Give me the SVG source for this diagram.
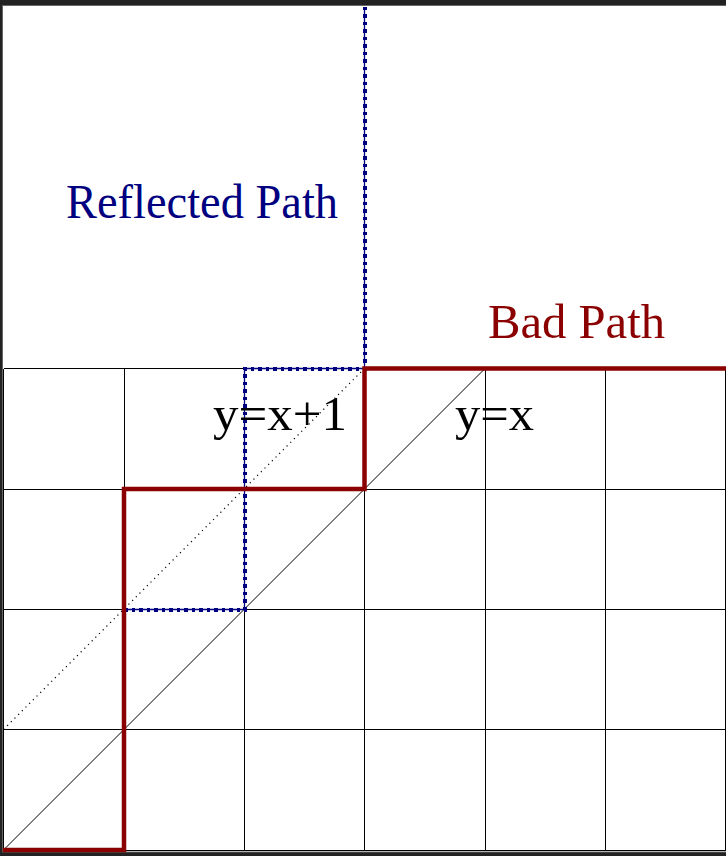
<svg xmlns="http://www.w3.org/2000/svg" width="726" height="856" viewBox="0 0 726 856">
<style>
.grid{stroke:#000;stroke-width:1;fill:none;shape-rendering:crispEdges}
.bad{stroke:#8B0000;stroke-width:4.5;fill:none;stroke-linejoin:miter;stroke-linecap:square}
.refl{stroke:#000080;fill:none}
.lbl{font-family:"Liberation Serif","DejaVu Serif",serif;font-size:48px}
</style>
<rect x="0" y="0" width="726" height="856" fill="#222"/>
<rect x="2.5" y="5.5" width="730" height="846.5" fill="#fff" stroke="#666" stroke-width="1"/>
<g id="grid" class="grid">
<path d="M3.5 368.5H725.5M3.5 489.5H725.5M3.5 609.5H725.5M3.5 729.5H725.5M3.5 850.5H725.5"/>
<path d="M3.5 368.5V850M124.5 368.5V850M244.5 368.5V850M364.5 368.5V850M485.5 368.5V850M605.5 368.5V850M725.5 368.5V850"/>
</g>
<g id="connectors">
<line id="diag-yx" x1="3.5" y1="850" x2="485" y2="368.5" stroke="#000" stroke-width="1"/>
<line id="diag-yx1" x1="3.5" y1="729.5" x2="364.5" y2="368.5" stroke="#000" stroke-width="1.2" stroke-dasharray="1.2 4"/>
<g id="reflected-path">
<path class="refl" stroke-width="1.3" d="M124 609.5H244.5V368.5H364.5V7"/>
<path class="refl" stroke-width="4" stroke-dasharray="3.5 4" d="M124 609.5H244.5V368.5H364.5V7" shape-rendering="crispEdges"/>
</g>
<path id="bad-path" class="bad" d="M5 850H124V489H364.5V368.5H726"/>
</g>
<g id="label-reflected"><text class="lbl" x="66" y="218" fill="#000080" textLength="272" lengthAdjust="spacingAndGlyphs">Reflected Path</text></g>
<g id="label-bad"><text class="lbl" x="488" y="338" fill="#8B0000" textLength="177" lengthAdjust="spacingAndGlyphs">Bad Path</text></g>
<g id="label-yx1"><text class="lbl" x="213" y="430" fill="#000" textLength="134" lengthAdjust="spacingAndGlyphs">y=x+1</text></g>
<g id="label-yx"><text class="lbl" x="455" y="430" fill="#000" textLength="79" lengthAdjust="spacingAndGlyphs">y=x</text></g>
</svg>
